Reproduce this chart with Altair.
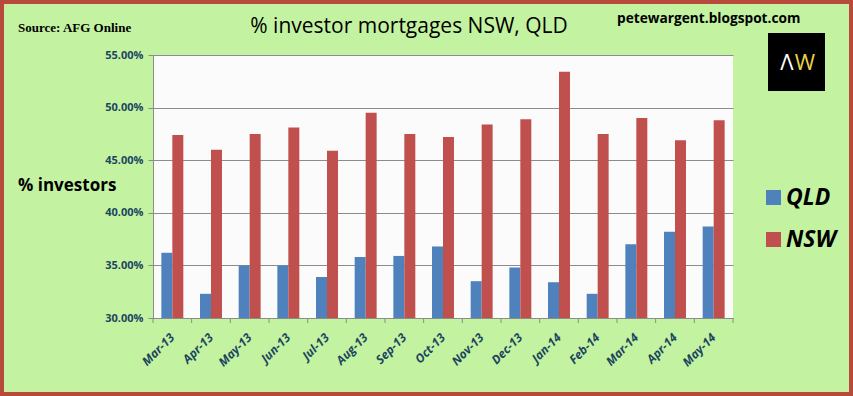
import altair as alt
import pandas as pd

months = ["Mar-13", "Apr-13", "May-13", "Jun-13", "Jul-13", "Aug-13", "Sep-13", "Oct-13",
          "Nov-13", "Dec-13", "Jan-14", "Feb-14", "Mar-14", "Apr-14", "May-14"]
qld = [36.2, 32.3, 35.0, 35.0, 33.9, 35.8, 35.9, 36.8, 33.5, 34.8, 33.4, 32.3, 37.0, 38.2, 38.7]
nsw = [47.4, 46.0, 47.5, 48.1, 45.9, 49.5, 47.5, 47.2, 48.4, 48.9, 53.4, 47.5, 49.0, 46.9, 48.8]
series = ["QLD", "NSW"]
colors = ["#4f81bd", "#c0504d"]
y_ticks = [30, 35, 40, 45, 50, 55]

title_text = "% investor mortgages NSW, QLD"
source_text = "Source: AFG Online"
site_text = "petewargent.blogspot.com"
ytitle_text = "% investors"
logo_left = "Λ"
logo_right = "W"

rows = []
for i, m in enumerate(months):
    rows.append({"month": m, "state": "QLD", "pct": qld[i]})
    rows.append({"month": m, "state": "NSW", "pct": nsw[i]})
df = pd.DataFrame(rows)

W, H = 580, 263
LEFT, TOP = 153, 55
CW, CH = 853, 396
LABEL_COLOR = "#1c4560"
GRID = "#8c8c8c"

xscale = alt.Scale(paddingInner=0, paddingOuter=0)
xaxis = alt.Axis(title=None, labelAngle=-45, labelAlign="right", labelBaseline="middle",
                 labelFont="Open Sans", labelFontWeight="bold", labelFontStyle="italic",
                 labelFontSize=12, labelColor=LABEL_COLOR, labelPadding=17,
                 domainColor=GRID, ticks=False, grid=False)

bars = alt.Chart(df).mark_bar().encode(
    x=alt.X("month:N", sort=months, scale=xscale, axis=xaxis),
    xOffset=alt.XOffset("state:N", sort=series,
                        scale=alt.Scale(paddingInner=0, paddingOuter=0.76)),
    y=alt.Y("pct:Q", scale=alt.Scale(domain=[30, 55], nice=False, zero=False),
            axis=alt.Axis(title=None, values=y_ticks,
                          labelExpr="format(datum.value, '.2f') + '%'",
                          labelFont="Open Sans", labelFontWeight="bold", labelFontSize=11,
                          labelColor=LABEL_COLOR, labelPadding=5,
                          grid=True, gridColor=GRID, domainColor=GRID, tickColor=GRID,
                          tickSize=5)),
    y2=alt.datum(30),
    color=alt.Color("state:N", sort=series,
                    scale=alt.Scale(domain=series, range=colors),
                    legend=alt.Legend(title=None, orient="none", legendX=609, legendY=131,
                                      symbolType="square", symbolSize=225,
                                      symbolStrokeWidth=0,
                                      labelFont="Open Sans", labelFontWeight="bold",
                                      labelFontStyle="italic", labelFontSize=23,
                                      labelColor="#000000", labelOffset=1,
                                      rowPadding=18)),
)

one = pd.DataFrame({"k": [0]})

x_ticks = alt.Chart(pd.DataFrame({"month": months})).mark_rule(color=GRID).encode(
    x=alt.X("month:N", sort=months, bandPosition=0, scale=xscale, axis=xaxis),
    y=alt.value(H), y2=alt.value(H + 5))

end_tick = alt.Chart(one).mark_rule(color=GRID).encode(
    x=alt.value(W), y=alt.value(H), y2=alt.value(H + 5))


def txt(s, x, y, size, font="Open Sans", weight="bold", align="left", color="#000000", style="normal"):
    return alt.Chart(pd.DataFrame({"t": [s]})).mark_text(
        align=align, baseline="middle", font=font, fontSize=size, fontWeight=weight,
        fontStyle=style, color=color
    ).encode(text="t:N", x=alt.value(x), y=alt.value(y))


title = txt(title_text, 256, -28, 21, weight=500, align="center")
source = txt(source_text, -135, -27, 13, font="Liberation Serif")
site = txt(site_text, 464, -36, 13.7)
ytitle = txt(ytitle_text, -135, 131, 17)

logo_box = alt.Chart(one).mark_rect(color="#000000").encode(
    x=alt.value(615), x2=alt.value(672), y=alt.value(-22), y2=alt.value(36))
logo_a = txt(logo_left, 634, 8, 22, weight="normal", align="center", color="#ffffff")
logo_w = txt(logo_right, 652, 8, 22, weight="normal", align="center", color="#e6d24a")

frame = alt.Chart(one).mark_rect(fillOpacity=0, stroke="#b84a3c", strokeWidth=6).encode(
    x=alt.value(-LEFT + 1), x2=alt.value(CW - LEFT - 1),
    y=alt.value(-TOP + 1), y2=alt.value(CH - TOP - 1))

chart = alt.layer(
    bars, x_ticks, end_tick, title, source, site, ytitle, logo_box, logo_a, logo_w, frame
).properties(
    width=W, height=H,
    autosize=alt.AutoSizeParams(type="none"),
    padding={"left": LEFT, "top": TOP, "right": CW - LEFT - W, "bottom": CH - TOP - H},
).configure(
    background="#c3f3a0"
).configure_view(
    fill="#fbfbfb", strokeWidth=0
)

chart.save("out.html", embed_options={"renderer": "svg", "actions": False})
